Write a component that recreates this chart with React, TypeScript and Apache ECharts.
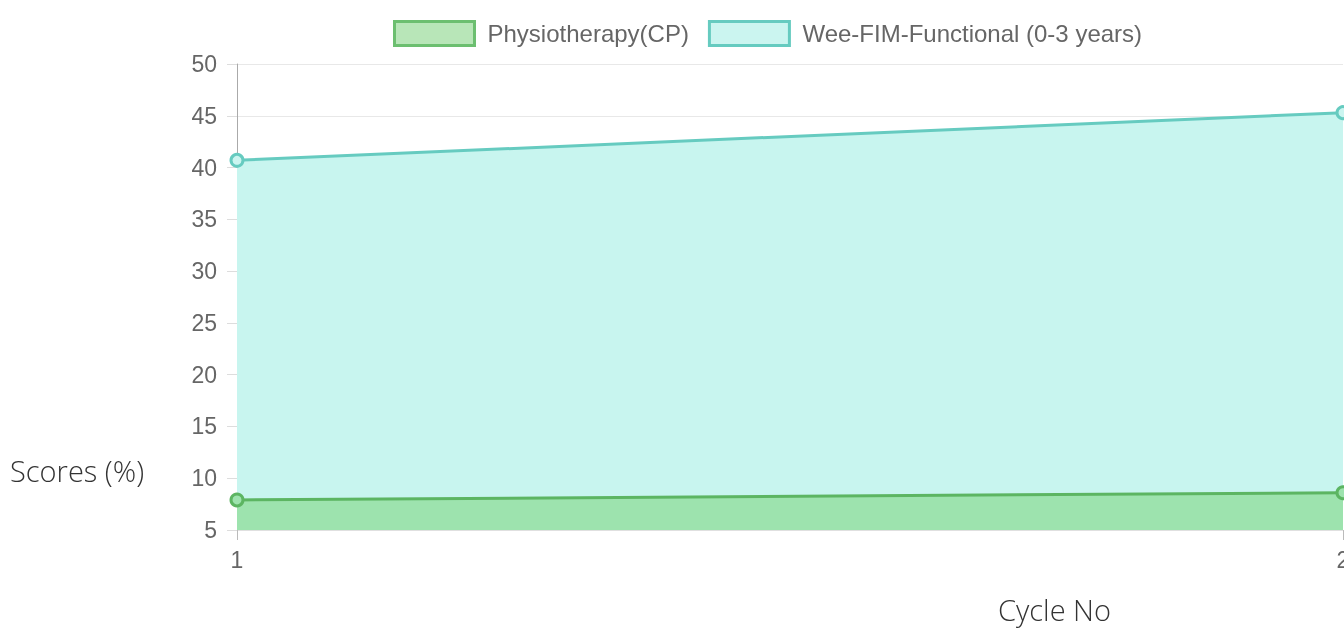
import React, { useEffect, useRef } from "react";
import * as echarts from "echarts";

const cycles = ["1", "2"];
const physioName = "Physiotherapy(CP)";
const weeName = "Wee-FIM-Functional (0-3 years)";
const physioValues = [7.9, 8.6];
const weeValues = [40.7, 45.3];
const yMin = 5;
const yMax = 50;
const yStep = 5;

export default function App() {
  const ref = useRef<HTMLDivElement>(null);
  useEffect(() => {
    if (!ref.current) return;
    const chart = echarts.init(ref.current, undefined, { renderer: "svg" });
    chart.setOption({
      animation: false,
      legend: {
        top: 15,
        left: 388,
        itemGap: 19,
        itemWidth: 80,
        itemHeight: 24,
        icon: "rect",
        textStyle: { fontFamily: "Liberation Sans, Arial", fontSize: 24, color: "#666", padding: [0, 0, 0, 8] },
        data: [
          { name: physioName, itemStyle: { color: "#b8e6b8", borderColor: "#6cbf70", borderWidth: 3 } },
          { name: weeName, itemStyle: { color: "#cbf5f0", borderColor: "#66cbc0", borderWidth: 3 } },
        ],
      },
      grid: { left: 237, right: 1, top: 64, bottom: 100, containLabel: false, outerBoundsMode: "none" },
      xAxis: {
        type: "category",
        data: cycles,
        boundaryGap: false,
        axisLine: { show: true, lineStyle: { color: "#e0e0e0", width: 1 } },
        axisTick: { show: true, length: 10, alignWithLabel: true, lineStyle: { color: "#bbb" } },
        axisLabel: { fontFamily: "Liberation Sans, Arial", fontSize: 23, color: "#666", margin: 18 },
        splitLine: { show: false },
      },
      yAxis: {
        type: "value",
        min: yMin,
        max: yMax,
        interval: yStep,
        axisLine: { show: true, lineStyle: { color: "#aaa", width: 1 } },
        axisTick: { show: true, length: 10, lineStyle: { color: "#ddd" } },
        axisLabel: { fontFamily: "Liberation Sans, Arial", fontSize: 23, color: "#666", margin: 20 },
        splitLine: { show: true, lineStyle: { color: "#e8e8e8", width: 1 } },
      },
      series: [
        {
          name: weeName,
          type: "line",
          data: weeValues,
          z: 2,
          symbol: "circle",
          symbolSize: 12,
          lineStyle: { color: "#66cbc0", width: 3 },
          itemStyle: { color: "#cbf5f0", borderColor: "#66cbc0", borderWidth: 3 },
          areaStyle: { color: "#c8f5ef", opacity: 1, origin: "start" },
        },
        {
          name: physioName,
          type: "line",
          data: physioValues,
          z: 3,
          symbol: "circle",
          symbolSize: 12,
          lineStyle: { color: "#5cb562", width: 3 },
          itemStyle: { color: "#9de3ae", borderColor: "#5cb562", borderWidth: 3 },
          areaStyle: { color: "#9de3ae", opacity: 1, origin: "start" },
        },
      ],
      graphic: [
        {
          type: "text",
          x: 10,
          y: 470,
          style: { text: "Scores (%)", font: "300 29px 'Open Sans', 'Noto Sans', sans-serif", fill: "#333", verticalAlign: "middle" },
        },
        {
          type: "text",
          x: 998,
          y: 609,
          style: { text: "Cycle No", font: "300 29px 'Open Sans', 'Noto Sans', sans-serif", fill: "#333", verticalAlign: "middle" },
        },
      ],
    });
    return () => chart.dispose();
  }, []);
  return <div ref={ref} style={{ width: 1344, height: 630, position: "fixed", left: 0, top: 0 }} />;
}
